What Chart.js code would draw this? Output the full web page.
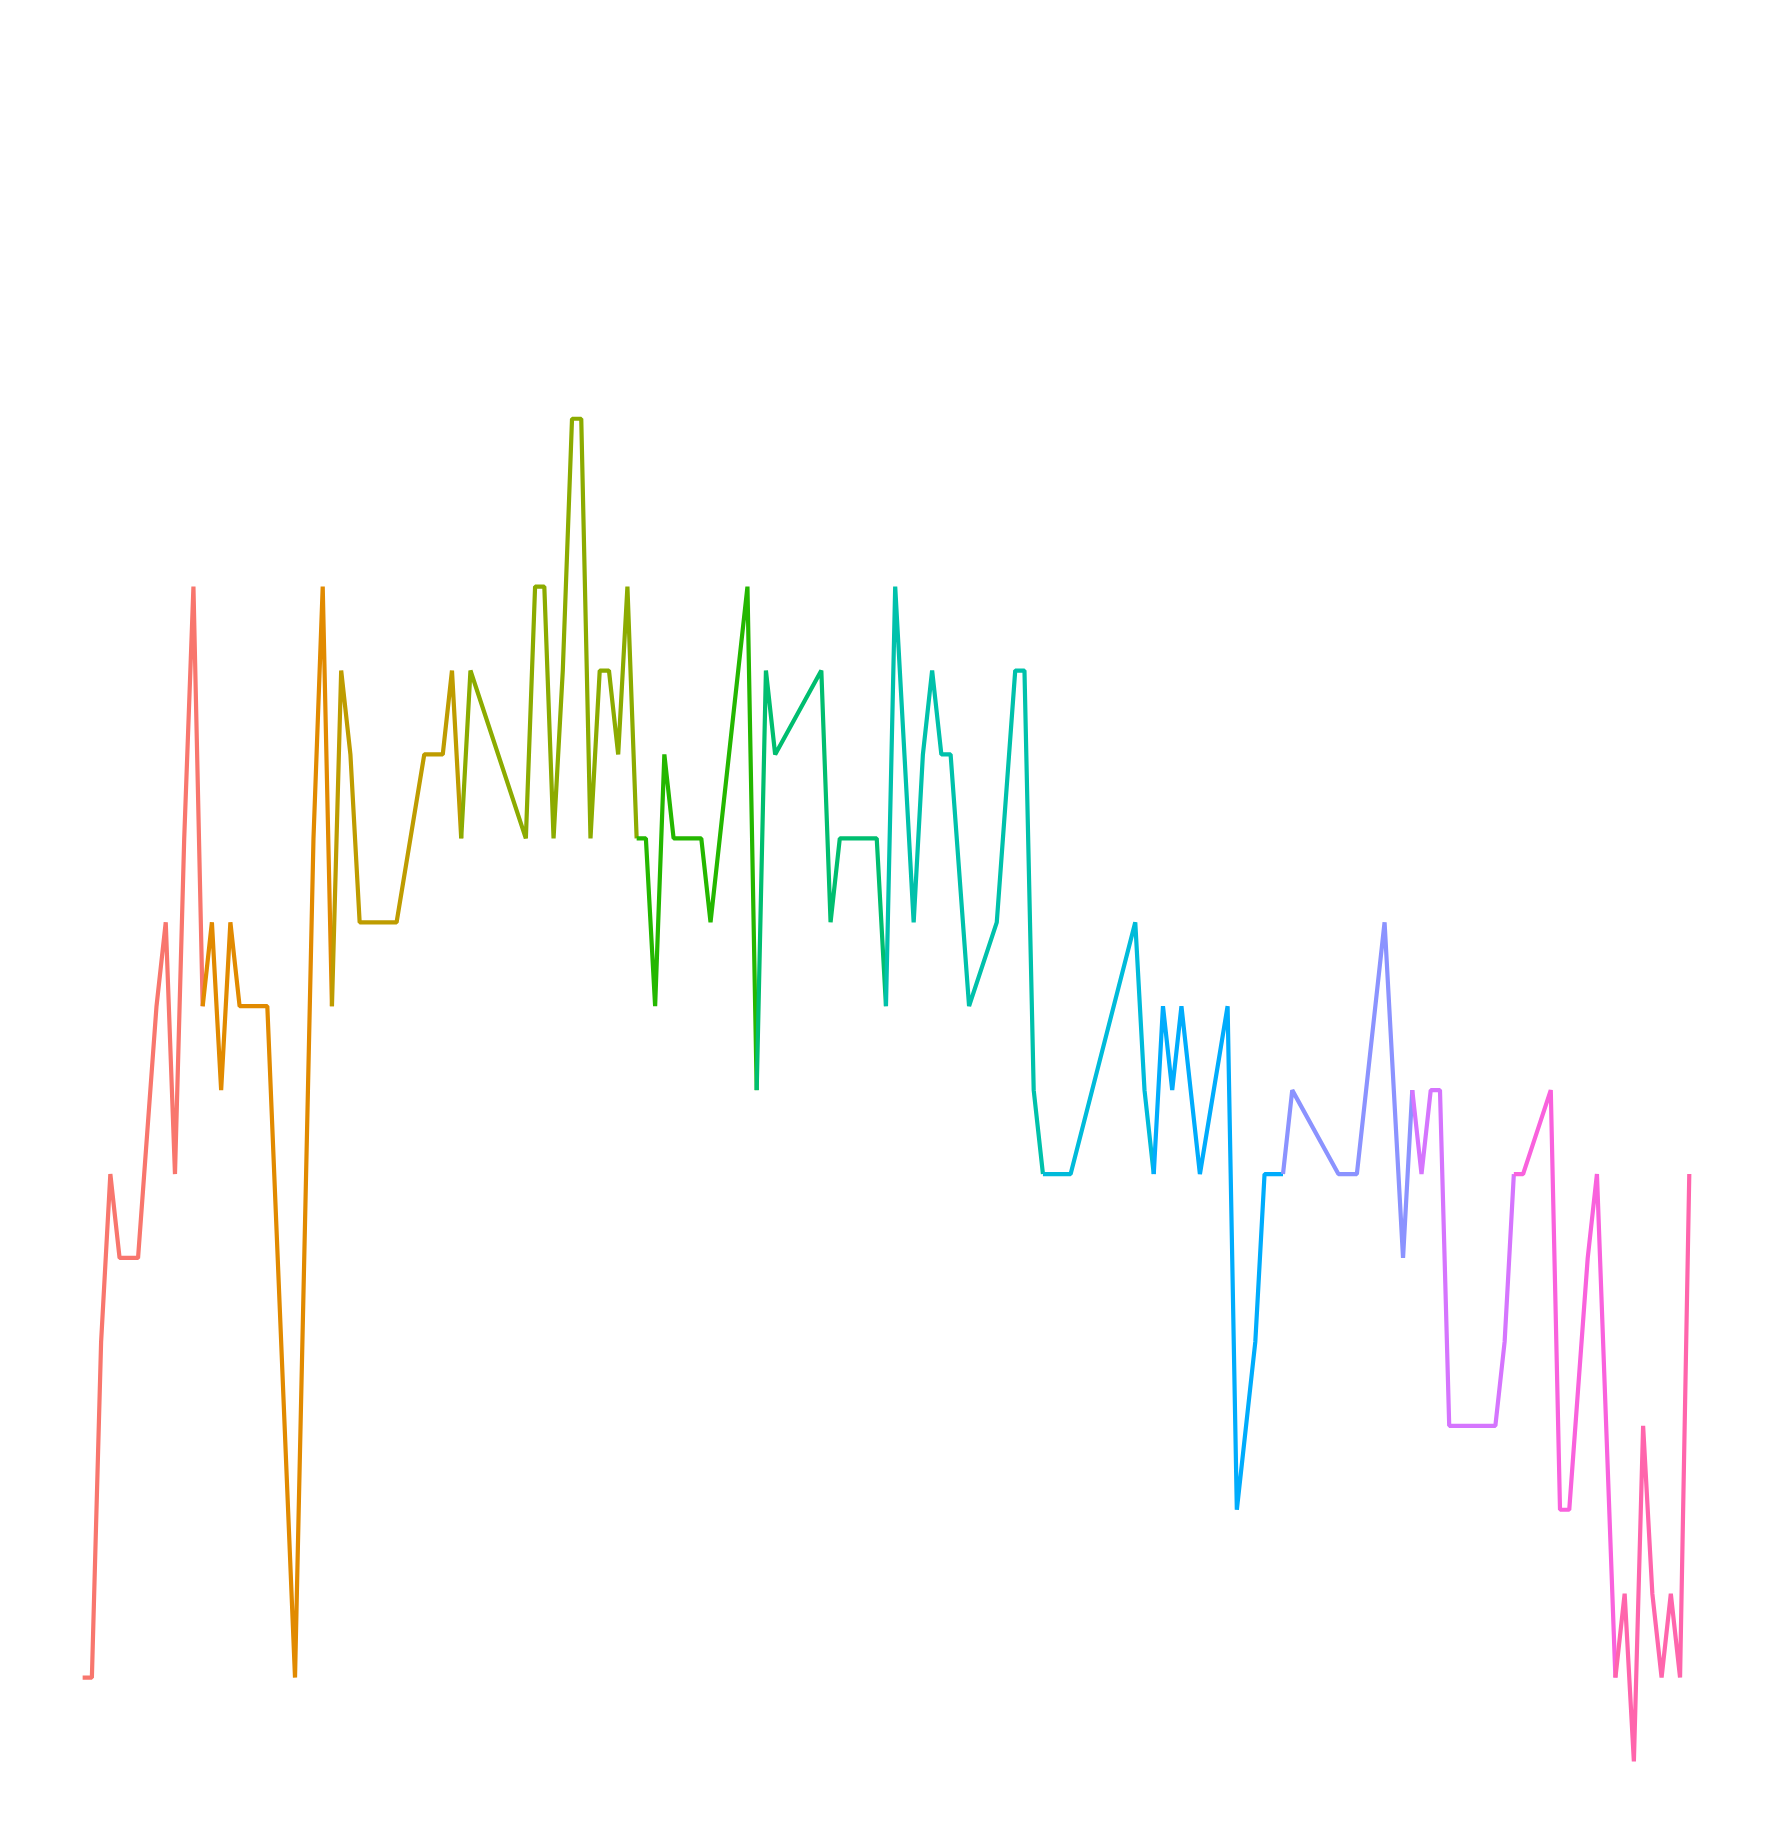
<!DOCTYPE html>
<html>
<head>
<meta charset="utf-8">
<script src="https://cdn.jsdelivr.net/npm/chart.js@4.4.1/dist/chart.umd.min.js"></script>
<style>
  html, body { margin: 0; padding: 0; background: #ffffff; }
  #wrap { width: 1771px; height: 1845px; }
</style>
</head>
<body>
<div id="wrap"><canvas id="c" width="1771" height="1845"></canvas></div>
<script>
// Position of each observation along the x axis (there are gaps)
const xPos = [
  0,1,2,3,4,5,6,8,9,10,11,12,
  13,14,15,16,17,18,19,20,23,25,26,
  27,28,29,30,31,32,33,34,37,38,39,40,
  41,42,48,49,50,51,52,53,54,55,56,57,58,59,
  60,61,62,63,64,65,66,67,68,69,70,71,72,
  73,74,75,80,81,82,83,84,85,86,
  87,88,89,90,91,92,93,94,96,99,101,102,103,
  104,105,106,107,114,115,
  116,117,118,119,120,121,124,125,127,128,129,
  130,131,136,137,138,139,141,142,143,
  144,145,146,147,148,149,150,151,152,153,154,
  155,156,159,160,161,163,164,165,
  166,167,168,169,170,171,172,173,174
];
// Observed values
const values = [
  1,1,5,7,6,6,6,9,10,7,11,14,
  9,10,8,10,9,9,9,9,1,11,14,
  9,13,12,10,10,10,10,10,12,12,12,13,
  11,13,11,14,14,11,13,16,16,11,13,13,12,14,
  11,11,9,12,11,11,11,11,10,11,12,13,14,
  8,13,12,13,10,11,11,11,11,11,
  9,14,12,10,12,13,12,12,9,10,13,13,8,
  7,7,7,7,10,8,
  7,9,8,9,8,7,9,3,5,7,7,
  7,8,7,7,7,8,10,8,6,
  8,7,8,8,4,4,4,4,4,4,5,
  7,7,8,3,3,6,7,4,
  1,2,0,4,2,1,2,1,7
];
// First x position of each of the 13 groups
const groupStarts = [0,13,27,41,60,73,87,104,116,130,144,155,166];
// ggplot hue palette for 13 groups
const groupColors = ["#F8766D","#E18A00","#BE9C00","#8CAB00","#24B700","#00BE70",
  "#00C1AB","#00BBDA","#00ACFC","#8B93FF","#D575FE","#F962DD","#FF65AC"];

function groupOf(x) {
  let g = 0;
  for (let i = 0; i < groupStarts.length; i++) if (x >= groupStarts[i]) g = i;
  return g;
}

const points = xPos.map((x, i) => ({ x: x, y: values[i] }));

new Chart(document.getElementById('c'), {
  type: 'line',
  data: {
    datasets: [{
      data: points,
      borderWidth: 4.2,
      borderJoinStyle: 'bevel',
      borderCapStyle: 'butt',
      pointRadius: 0,
      tension: 0,
      fill: false,
      segment: {
        borderColor: ctx => groupColors[groupOf(xPos[ctx.p0DataIndex])]
      },
      borderColor: groupColors[0]
    }]
  },
  options: {
    responsive: false,
    animation: false,
    devicePixelRatio: 1,
    layout: { padding: 0 },
    plugins: { legend: { display: false }, tooltip: { enabled: false } },
    events: [],
    scales: {
      x: { type: 'linear', display: false, min: -8.95, max: 182.85 },
      y: { type: 'linear', display: false, min: -0.995, max: 20.99 }
    }
  }
});
</script>
</body>
</html>
